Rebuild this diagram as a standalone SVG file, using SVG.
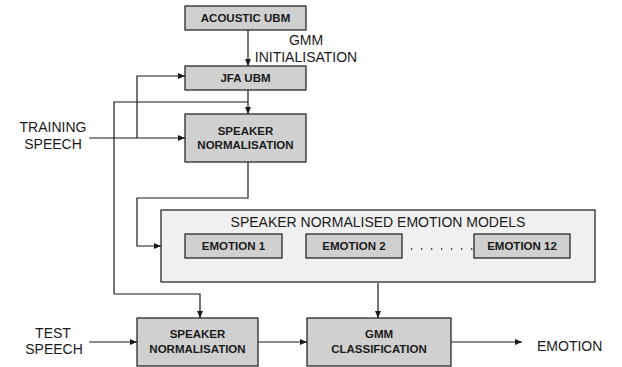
<svg xmlns="http://www.w3.org/2000/svg" width="622" height="367" viewBox="0 0 622 367">
<style>
.box{fill:#d0d0d0;stroke:#1a1a1a;stroke-width:1.2}
.panel{fill:#f0f0f0;stroke:#1a1a1a;stroke-width:1.2}
.b{font-family:"Liberation Sans",Arial,sans-serif;font-weight:bold;font-size:11.5px;fill:#1a1a1a;text-anchor:middle}
.t{font-family:"Liberation Sans",Arial,sans-serif;font-size:14px;fill:#1a1a1a;text-anchor:middle}
.c{fill:none;stroke:#1a1a1a;stroke-width:1.2}
</style>
<defs>
<marker id="ah" markerWidth="7" markerHeight="6" refX="7" refY="3" orient="auto" markerUnits="userSpaceOnUse">
<path d="M0,0 L7,3 L0,6 Z" fill="#1a1a1a"/>
</marker>
</defs>
<rect width="622" height="367" fill="#ffffff"/>
<g id="connectors">
<path class="c" d="M248,30 V66" marker-end="url(#ah)"/>
<path class="c" d="M248,90 V114" marker-end="url(#ah)"/>
<path class="c" d="M114,294 V102 H248"/>
<path class="c" d="M89,138 H185" marker-end="url(#ah)"/>
<path class="c" d="M137,138 V76 H185" marker-end="url(#ah)"/>
<path class="c" d="M248,162 V198 H137 V246 H161" marker-end="url(#ah)"/>
<path class="c" d="M114,294 H200 V318" marker-end="url(#ah)"/>
<path class="c" d="M378,283 V318" marker-end="url(#ah)"/>
<path class="c" d="M89,342 H137" marker-end="url(#ah)"/>
<path class="c" d="M258,342 H307" marker-end="url(#ah)"/>
<path class="c" d="M451,342 H522" marker-end="url(#ah)"/>
</g>
<g id="acoustic-ubm">
<rect class="box" x="185" y="6" width="121" height="24"/>
<text class="b" x="245.5" y="22">ACOUSTIC UBM</text>
</g>
<g id="gmm-init-label">
<text class="t" x="306" y="45">GMM</text>
<text class="t" x="306" y="62">INITIALISATION</text>
</g>
<g id="jfa-ubm">
<rect class="box" x="185" y="66" width="121" height="24"/>
<text class="b" x="245.5" y="82">JFA UBM</text>
</g>
<g id="training-speech">
<text class="t" x="53" y="132">TRAINING</text>
<text class="t" x="53" y="149">SPEECH</text>
</g>
<g id="speaker-norm-train">
<rect class="box" x="185" y="114" width="121" height="48"/>
<text class="b" x="245.5" y="135">SPEAKER</text>
<text class="b" x="245.5" y="149">NORMALISATION</text>
</g>
<g id="emotion-models">
<rect class="panel" x="161" y="210" width="434" height="72"/>
<text class="t" x="378" y="227">SPEAKER NORMALISED EMOTION MODELS</text>
<g id="emotion-1">
<rect class="box" x="185" y="234" width="97" height="24"/>
<text class="b" x="233.5" y="250">EMOTION 1</text>
</g>
<g id="emotion-2">
<rect class="box" x="306" y="234" width="96" height="24"/>
<text class="b" x="354" y="250">EMOTION 2</text>
</g>
<path d="M411,249 H474" stroke="#1a1a1a" stroke-width="1.3" stroke-dasharray="1.3 8.7" fill="none"/>
<g id="emotion-12">
<rect class="box" x="474" y="234" width="96" height="24"/>
<text class="b" x="522" y="250">EMOTION 12</text>
</g>
</g>
<g id="test-speech">
<text class="t" x="53" y="338">TEST</text>
<text class="t" x="54" y="354">SPEECH</text>
</g>
<g id="speaker-norm-test">
<rect class="box" x="137" y="318" width="121" height="48"/>
<text class="b" x="197.5" y="338">SPEAKER</text>
<text class="b" x="197.5" y="353">NORMALISATION</text>
</g>
<g id="gmm-classification">
<rect class="box" x="307" y="318" width="144" height="48"/>
<text class="b" x="379" y="338">GMM</text>
<text class="b" x="379" y="353">CLASSIFICATION</text>
</g>
<g id="emotion-out">
<text class="t" x="537" y="351" style="text-anchor:start">EMOTION</text>
</g>
</svg>
